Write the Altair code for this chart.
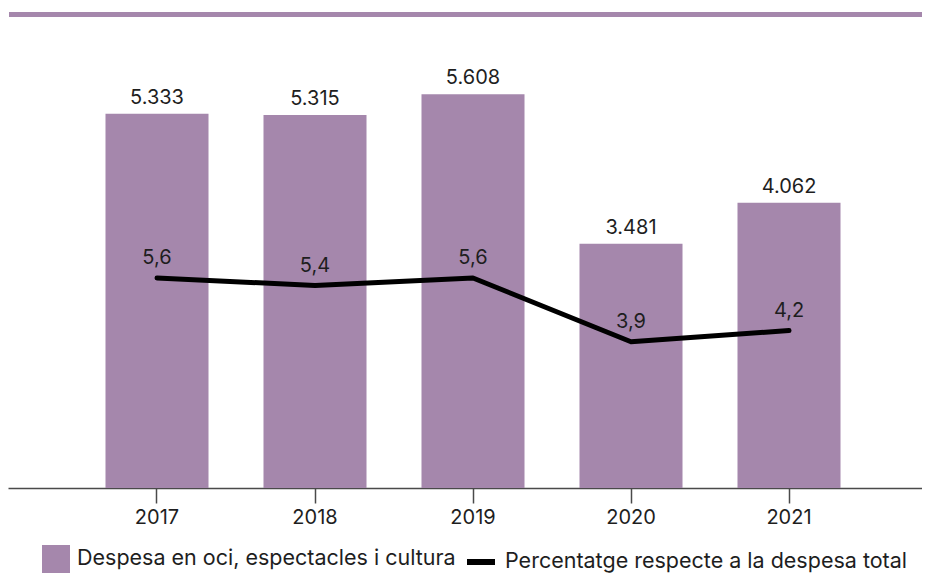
import altair as alt
import pandas as pd

years = ["2017", "2018", "2019", "2020", "2021"]
despesa = [5333, 5315, 5608, 3481, 4062]
percentatge = [5.6, 5.4, 5.6, 3.9, 4.2]

bar_name = "Despesa en oci, espectacles i cultura"
line_name = "Percentatge respecte a la despesa total"

df = pd.DataFrame({
    "year": years,
    "despesa": despesa,
    "pct": percentatge,
    "serie_bar": [bar_name] * len(years),
    "serie_line": [line_name] * len(years),
})

FONT = "Inter"
PURPLE = "#a587ac"
TEXT = "#1e1e1e"

x_enc = alt.X(
    "year:N",
    sort=years,
    scale=alt.Scale(paddingInner=0.348, paddingOuter=0.5664, align=0.5447),
    axis=alt.Axis(
        title=None, labelAngle=0, labelFontSize=20, labelFont=FONT,
        labelColor=TEXT, labelPadding=4, tickSize=15, tickWidth=1.5,
        tickColor="#4a4a4a", domainColor="#4a4a4a", domainWidth=1.5,
        grid=False,
    ),
)

y_bar = alt.Y("despesa:Q", axis=None,
              scale=alt.Scale(domain=[0, 6838], nice=False, zero=True))
y_line = alt.Y("pct:Q", axis=None,
               scale=alt.Scale(domain=[0, 12.8], nice=False, zero=True))

base = alt.Chart(df)

bars = base.mark_bar(color=PURPLE).encode(
    x=x_enc,
    y=y_bar,
    fill=alt.Fill(
        "serie_bar:N",
        scale=alt.Scale(domain=[bar_name], range=[PURPLE]),
        legend=alt.Legend(
            title=None, orient="none", legendX=34, legendY=537,
            symbolType="square", symbolSize=784, symbolStrokeWidth=0,
            symbolOpacity=1, labelFontSize=21.5, labelFont=FONT,
            labelColor=TEXT, labelOffset=7, labelLimit=600,
        ),
    ),
)

bar_text = base.transform_calculate(
    lab="replace(format(datum.despesa, ','), ',', '.')"
).mark_text(
    baseline="alphabetic", dy=-10, fontSize=20, font=FONT, color=TEXT
).encode(x=x_enc, y=y_bar, text="lab:N")

line = base.mark_line(strokeWidth=5, strokeCap="round", strokeJoin="round").encode(
    x=x_enc,
    y=y_line,
    stroke=alt.Stroke(
        "serie_line:N",
        scale=alt.Scale(domain=[line_name], range=["#000000"]),
        legend=alt.Legend(
            title=None, orient="none", legendX=456, legendY=537,
            symbolType="stroke", symbolSize=784, symbolStrokeWidth=6,
            labelFontSize=21.5, labelFont=FONT, labelColor=TEXT,
            labelOffset=7, labelLimit=600,
        ),
    ),
)

line_text = base.transform_calculate(
    lab="replace(format(datum.pct, '.1f'), '.', ',')"
).mark_text(
    baseline="alphabetic", dy=-14, fontSize=20, font=FONT, color=TEXT
).encode(x=x_enc, y=y_line, text="lab:N")

top_rule = base.mark_rule(color=PURPLE, strokeWidth=5).encode(
    x=alt.value(1), x2=alt.value(914), y=alt.value(6.5)
)

chart = alt.layer(top_rule, bars, bar_text, line, line_text).resolve_scale(
    y="independent"
).properties(
    width=914, height=480,
    autosize=alt.AutoSizeParams(type="none"),
    padding={"left": 0, "top": 0, "right": 0, "bottom": 85},
).configure_view(stroke=None)

chart.save("out.html", embed_options={"renderer": "svg", "actions": False})
